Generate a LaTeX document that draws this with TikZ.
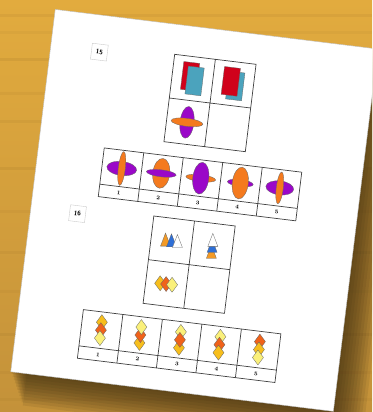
\documentclass[tikz,border=0pt]{standalone}
\usepackage{tikz}
\definecolor{Gold}{HTML}{C4923A}
\definecolor{GoldLight}{HTML}{E2AB3E}
\definecolor{GoldDark}{HTML}{A57A2C}
\definecolor{Shadow}{HTML}{3A2A10}
\definecolor{Red}{HTML}{D0021B}
\definecolor{Teal}{HTML}{4BA3BD}
\definecolor{Purple}{HTML}{9A08C8}
\definecolor{Orange}{HTML}{F47A1E}
\definecolor{Blue}{HTML}{2F6FD6}
\definecolor{TriOrange}{HTML}{F39A26}
\definecolor{Lemon}{HTML}{FAF07A}
\definecolor{Amber}{HTML}{F7BE1C}
\definecolor{Flame}{HTML}{F0621A}
\tikzset{
  fig/.style={draw=black!60,line width=0.3pt},
  pics/tri/.style={code={\draw[fig,fill=#1] (-5,-6.5)--(5,-6.5)--(0,6.5)--cycle;}},
  pics/dia/.style={code={\draw[fig,fill=#1] (0,7.5)--(5.5,0)--(0,-7.5)--(-5.5,0)--cycle;}}
}

\begin{document}
\begin{tikzpicture}[x=1pt,y=1pt,
    grid/.style={draw=black!75,line width=0.7pt},
    qnum/.style={draw=black!20,fill=white,line width=0.4pt,minimum size=16pt,inner sep=0pt,
      transform shape,font=\sffamily\bfseries\fontsize{6.5}{6.5}\selectfont},
    anum/.style={inner sep=0pt,transform shape,font=\bfseries\fontsize{5.5}{5.5}\selectfont}
  ]
  \useasboundingbox (0,-412) rectangle (372,0);
  \clip (0,-412) rectangle (372,0);
  % wooden table
  \shade[top color=GoldLight,bottom color=Gold] (0,-412) rectangle (372,0);
  \foreach \y/\o in {-14/.15,-31/.1,-58/.2,-92/.12,-120/.15,-167/.2,-210/.12,-251/.15,-290/.12,-333/.2,-371/.12,-398/.15}
    \fill[GoldDark,opacity=\o] (0,\y) rectangle (372,\y-3);
  \begin{scope}[shift={(210,-103)},rotate=-7]
    % paper and its shadow
    \foreach \d in {2,5,...,32}
      \fill[Shadow,opacity=.1] (-165+\d/2,-291-\d) rectangle (160+\d,74-\d);
    \fill[white,draw=black!25,line width=0.4pt] (-165,-291) rectangle (160,74);
    % question 15
    \node[qnum] (q15) at (-116,37) {15};
    \draw[grid] (-41,-44) rectangle (41,44) (0,-44)--(0,44) (-41,0)--(41,0);
    \begin{scope}[shift={(-20.5,22)}]
      \draw[fig,fill=Red] (-10.5,-12) rectangle (5.5,16);
      \draw[fig,fill=Teal] (-5.5,-16) rectangle (10.5,12);
    \end{scope}
    \begin{scope}[shift={(20.5,22)}]
      \draw[fig,fill=Teal] (-5.5,-16) rectangle (10.5,12);
      \draw[fig,fill=Red] (-10.5,-12) rectangle (5.5,16);
    \end{scope}
    \begin{scope}[shift={(-20.5,-22)}]
      \draw[fig,fill=Purple] (0,0) ellipse [x radius=7,y radius=16];
      \draw[fig,fill=Orange] (0,0) ellipse [x radius=16,y radius=4];
    \end{scope}
    \begin{scope}[shift={(0,-82)}]
      \draw[grid] (-99.5,-24.5) rectangle (99.5,24.5) (-99.5,-12)--(99.5,-12);
      \foreach \i/\bc/\bx/\by/\fc/\fx/\fy in {1/Purple/15/7/Orange/3.5/17,2/Orange/8.5/15/Purple/15/3.5,
          3/Orange/15/3.5/Purple/8/16,4/Purple/13/3.5/Orange/8/16,5/Purple/14/7/Orange/3.5/16}{
        \pgfmathsetmacro\cx{-99.5+39.8*(\i-0.5)}
        \ifnum\i<5 \draw[grid] (\cx+19.9,-24.5)--(\cx+19.9,24.5); \fi
        \draw[fig,fill=\bc] (\cx,6.25) ellipse [x radius=\bx,y radius=\by];
        \draw[fig,fill=\fc] (\cx,6.25) ellipse [x radius=\fx,y radius=\fy];
        \node[anum] (a15-\i) at (\cx,-18.25) {\i};
      }
    \end{scope}
    % question 16
    \node[qnum] (q16) at (-118,-126) {16};
    \begin{scope}[shift={(-1,-163)}]
      \draw[grid] (-41,-44) rectangle (41,44) (0,-44)--(0,44) (-41,0)--(41,0);
      \pic at (-26.5,22) {tri=TriOrange};
      \pic at (-20.5,22) {tri=Blue};
      \pic at (-14.5,22) {tri=white};
      \pic at (20.5,15.5) {tri=TriOrange};
      \pic at (20.5,21.5) {tri=Blue};
      \pic at (20.5,27.5) {tri=white};
      \pic at (-26.5,-22) {dia=Amber};
      \pic at (-20.5,-22) {dia=Flame};
      \pic at (-14.5,-22) {dia=Lemon};
    \end{scope}
    \begin{scope}[shift={(-1,-245)}]
      \draw[grid] (-99.5,-24.5) rectangle (99.5,24.5) (-99.5,-12)--(99.5,-12);
      \foreach \i/\stack in {1/{8/Amber,0/Flame,-8/Lemon},2/{-8/Amber,0/Flame,8/Lemon},
          3/{8/Lemon,-8/Amber,0/Flame},4/{8/Lemon,0/Flame,-8/Amber},5/{8/Flame,0/Amber,-8/Lemon}}{
        \pgfmathsetmacro\cx{-99.5+39.8*(\i-0.5)}
        \ifnum\i<5 \draw[grid] (\cx+19.9,-24.5)--(\cx+19.9,24.5); \fi
        \foreach \dy/\dc in \stack \pic at (\cx,6.25+\dy) {dia=\dc};
        \node[anum] (a16-\i) at (\cx,-18.25) {\i};
      }
    \end{scope}
  \end{scope}
\end{tikzpicture}
\end{document}
